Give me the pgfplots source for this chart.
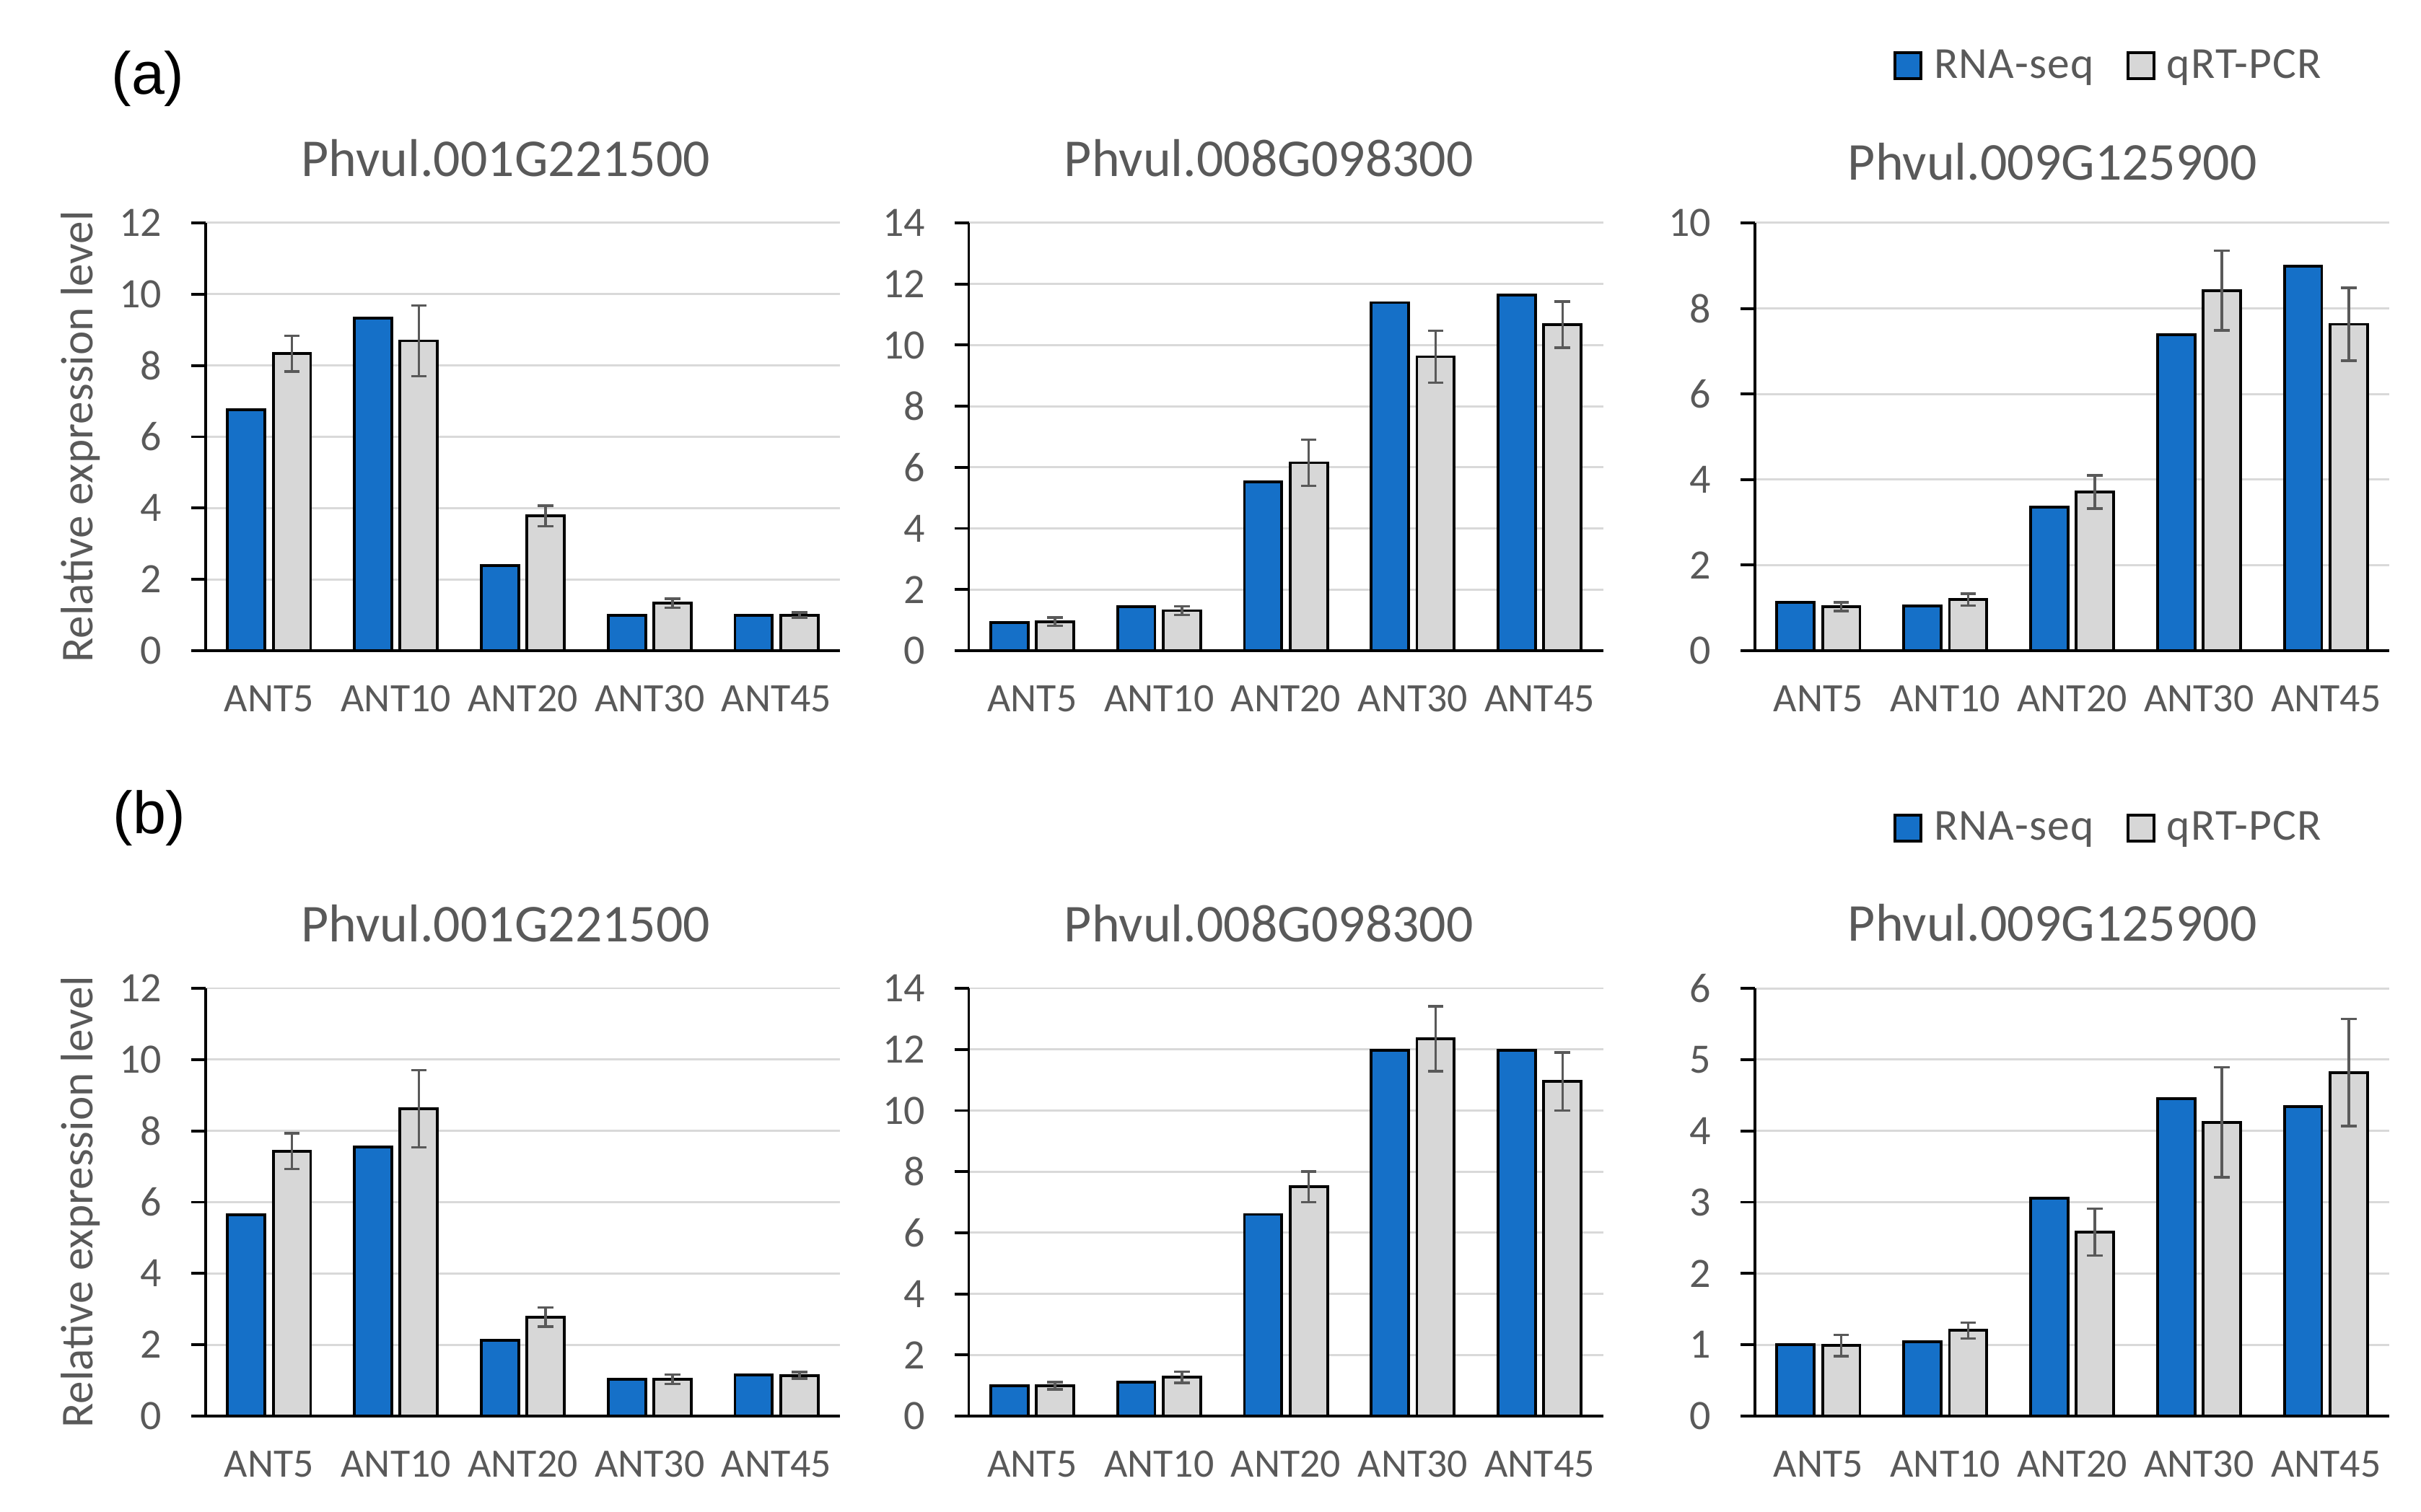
\documentclass[border=0pt]{standalone}
\usepackage{fontspec}
\setmainfont{Carlito}
\newfontfamily\arialfont{Liberation Sans}
\newfontfamily\keyfont[LetterSpace=2]{Carlito}
\usepackage{pgfplots}
\pgfplotsset{compat=1.18}
\definecolor{rnablue}{RGB}{21,112,200}
\definecolor{pcrgray}{RGB}{215,215,215}
\definecolor{txtgray}{RGB}{89,89,89}
\definecolor{gridgray}{RGB}{217,217,217}

\pgfplotsset{
  panel/.style={
    scale only axis, width=8.79cm, height=5.93cm, anchor=south west,
    xmin=-0.5, xmax=4.5, ymin=0,
    xtick={0,1,2,3,4}, xticklabels={ANT5,ANT10,ANT20,ANT30,ANT45},
    axis lines*=left,
    axis line style={black, line width=1.1pt},
    tick align=outside, major tick length=0.2cm,
    ytick style={black, line width=1.1pt},
    xtick style={draw=none},
    ymajorgrids, major grid style={gridgray, line width=0.85pt},
    /pgf/number format/assume math mode=true,
    yticklabel style={font=\fontsize{16.5}{16.5}\selectfont, text=txtgray, anchor=east, inner sep=0pt, xshift=-0.4cm},
    xticklabel style={font=\fontsize{15.9}{16}\selectfont, text=txtgray, anchor=center, inner sep=0pt, yshift=-0.47cm},
    title style={font=\fontsize{21}{21}\selectfont, text=txtgray, anchor=center, at={(axis description cs:0.473,1.116)}},
    ylabel style={font=\fontsize{18}{18}\selectfont, text=txtgray, anchor=center, at={(axis description cs:-0.197,0.5)}},
    ybar, bar width=0.295,
    every axis plot/.append style={draw=black, line width=1.1pt},
  },
  rna/.style={fill=rnablue, bar shift=-0.18},
  pcr/.style={fill=pcrgray, bar shift=0.18,
    error bars/y dir=both, error bars/y explicit,
    error bars/error bar style={txtgray, line width=1pt},
    error bars/error mark options={rotate=90, mark size=0.108cm, txtgray, line width=1pt}},
  keybox/.style={
    legend image code/.code={\draw[##1] (0cm,-0.18cm) rectangle (0.36cm,0.18cm); \path[draw=none, fill=none] (0.36cm,0cm) -- (0.47cm,0cm);},
    legend style={draw=none, fill=none, legend columns=2,
      font=\keyfont\fontsize{17.5}{18}\selectfont, text=txtgray, anchor=west,
      /tikz/every even column/.append style={column sep=0.38cm}},
  },
}

\begin{document}
\begin{tikzpicture}
\path[use as bounding box] (0,0) rectangle (33.55,20.95);

% ---- (a) ----
\node[font=\arialfont\fontsize{23.5}{24}\selectfont, black] at (2.05,19.86) {(a)};

\begin{axis}[panel, at={(2.85cm,11.93cm)}, ymax=12, ytick={0,2,...,12},
  title={Phvul.001G221500}, ylabel={Relative expression level}]
\addplot[rna] coordinates {(0,6.76) (1,9.32) (2,2.38) (3,1.00) (4,1.00)};
\addplot[pcr] coordinates {(0,8.33) +- (0,0.50) (1,8.69) +- (0,0.99) (2,3.78) +- (0,0.29) (3,1.33) +- (0,0.13) (4,1.00) +- (0,0.07)};
\end{axis}

\begin{axis}[panel, at={(13.425cm,11.93cm)}, ymax=14, ytick={0,2,...,14},
  title={Phvul.008G098300}]
\addplot[rna] coordinates {(0,0.93) (1,1.45) (2,5.53) (3,11.39) (4,11.64)};
\addplot[pcr] coordinates {(0,0.95) +- (0,0.13) (1,1.31) +- (0,0.14) (2,6.15) +- (0,0.75) (3,9.62) +- (0,0.85) (4,10.67) +- (0,0.76)};
\end{axis}

\begin{axis}[panel, keybox, at={(24.32cm,11.93cm)}, ymax=10, ytick={0,2,...,10},
  title={Phvul.009G125900},
  title style={at={(axis description cs:0.469,1.107)}},
  legend style={at={(axis description cs:0.206,1.367)}}]
\addplot[rna] coordinates {(0,1.13) (1,1.05) (2,3.36) (3,7.38) (4,8.99)};
\addplot[pcr] coordinates {(0,1.03) +- (0,0.10) (1,1.19) +- (0,0.14) (2,3.71) +- (0,0.39) (3,8.42) +- (0,0.93) (4,7.63) +- (0,0.85)};
\legend{RNA-seq, qRT-PCR}
\end{axis}

% ---- (b) ----
\node[font=\arialfont\fontsize{23.5}{24}\selectfont, black] at (2.07,9.61) {(b)};

\begin{axis}[panel, at={(2.85cm,1.32cm)}, ymax=12, ytick={0,2,...,12},
  title={Phvul.001G221500}, ylabel={Relative expression level}]
\addplot[rna] coordinates {(0,5.64) (1,7.55) (2,2.13) (3,1.04) (4,1.16)};
\addplot[pcr] coordinates {(0,7.43) +- (0,0.50) (1,8.62) +- (0,1.08) (2,2.78) +- (0,0.27) (3,1.03) +- (0,0.13) (4,1.14) +- (0,0.09)};
\end{axis}

\begin{axis}[panel, at={(13.425cm,1.32cm)}, ymax=14, ytick={0,2,...,14},
  title={Phvul.008G098300}]
\addplot[rna] coordinates {(0,0.99) (1,1.12) (2,6.60) (3,11.98) (4,11.98)};
\addplot[pcr] coordinates {(0,0.99) +- (0,0.12) (1,1.27) +- (0,0.18) (2,7.50) +- (0,0.50) (3,12.35) +- (0,1.06) (4,10.95) +- (0,0.95)};
\end{axis}

\begin{axis}[panel, keybox, at={(24.32cm,1.32cm)}, ymax=6, ytick={0,1,...,6},
  title={Phvul.009G125900},
  title style={at={(axis description cs:0.469,1.118)}},
  legend style={at={(axis description cs:0.206,1.375)}}]
\addplot[rna] coordinates {(0,1.00) (1,1.04) (2,3.06) (3,4.45) (4,4.34)};
\addplot[pcr] coordinates {(0,0.99) +- (0,0.15) (1,1.20) +- (0,0.11) (2,2.58) +- (0,0.33) (3,4.12) +- (0,0.77) (4,4.82) +- (0,0.75)};
\legend{RNA-seq, qRT-PCR}
\end{axis}
\end{tikzpicture}
\end{document}
